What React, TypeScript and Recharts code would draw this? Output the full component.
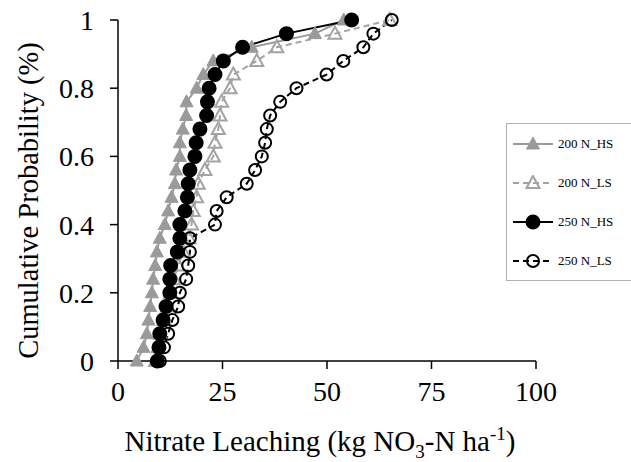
import React from "react"
import { Legend, Line, LineChart, XAxis, YAxis } from "recharts"

// cumulative probability levels (y) shared by all series
const probability = [
  0, 0.04, 0.08, 0.12, 0.16, 0.2, 0.24, 0.28, 0.32, 0.36, 0.4, 0.44, 0.48,
  0.52, 0.56, 0.6, 0.64, 0.68, 0.72, 0.76, 0.8, 0.84, 0.88, 0.92, 0.96, 1,
]

// nitrate leaching (kg NO3-N/ha) per series
const n200HS = [
  4.5, 6.1, 6.9, 7.3, 7.7, 8.1, 8.4, 8.9, 9.3, 10, 11.2, 12, 12.8, 13.6, 13.9,
  14.8, 14.8, 15.5, 16.3, 16.4, 18.8, 20.4, 22.8, 32, 47.1, 54,
]
const n200LS = [
  9, 9.6, 10.2, 11, 11.8, 12.6, 13.4, 14.4, 15.6, 17, 17.6, 18, 18.8, 19.2,
  20.8, 22.8, 23.2, 24, 24.4, 24.8, 26.8, 27.6, 33.2, 38, 51.9, 65,
]
const n250HS = [
  9.4, 9.8, 10, 10.8, 11.5, 12.4, 12.4, 12.6, 14.2, 14.8, 14.8, 16, 16.6, 16.8,
  17.2, 18.4, 18.7, 19.6, 21.2, 21.4, 21.8, 23.2, 25.2, 29.8, 40.3, 55.9,
]
const n250LS = [
  10, 11, 12, 13, 14.4, 14.8, 16.3, 16.8, 17.2, 17.2, 23.2, 23.6, 26, 30.8,
  32.8, 34.4, 35.2, 35.6, 36.4, 38.8, 42.7, 49.9, 53.9, 58.7, 61.1, 65.5,
]

const xTicks = [0, 25, 50, 75, 100]
const yTicks = [0, 0.2, 0.4, 0.6, 0.8, 1]

const toPoints = (xs: number[]) => xs.map((x, i) => ({ x, p: probability[i] }))

const FONT = "'Liberation Serif', 'Times New Roman', serif"
const GRAY = "#9a9a9a"

const series = [
  { name: "200 N_HS", data: toPoints(n200HS), stroke: GRAY, dash: undefined, marker: "tri", fill: GRAY },
  { name: "200 N_LS", data: toPoints(n200LS), stroke: "#a3a3a3", dash: "6 4", marker: "tri", fill: "none" },
  { name: "250 N_HS", data: toPoints(n250HS), stroke: "#000", dash: undefined, marker: "circle", fill: "#000" },
  { name: "250 N_LS", data: toPoints(n250LS), stroke: "#000", dash: "6 4", marker: "circle", fill: "none" },
]

function Marker({ cx, cy, kind, fill, stroke }: any) {
  if (kind === "tri") {
    return (
      <polygon
        points={`${cx},${cy - 7} ${cx - 6.5},${cy + 5} ${cx + 6.5},${cy + 5}`}
        fill={fill}
        stroke={stroke}
        strokeWidth={fill === "none" ? 2 : 1}
      />
    )
  }
  return (
    <circle
      cx={cx}
      cy={cy}
      r={fill === "none" ? 6 : 6.5}
      fill={fill}
      stroke={stroke}
      strokeWidth={2}
    />
  )
}

function LegendBox() {
  return (
    <div
      style={{
        width: 125,
        height: 158,
        boxSizing: "border-box",
        borderTop: "1.5px solid #b0b0b0",
        borderLeft: "1.5px solid #b0b0b0",
        borderBottom: "1.5px solid #b0b0b0",
        background: "#fff",
        display: "flex",
        flexDirection: "column",
        justifyContent: "space-around",
        paddingLeft: 4,
        fontFamily: FONT,
        fontSize: 13,
      }}
    >
      {series.map((s) => (
        <div key={s.name} style={{ display: "flex", alignItems: "center" }}>
          <svg width={44} height={16}>
            <line x1={2} y1={8} x2={42} y2={8} stroke={s.stroke} strokeWidth={2} strokeDasharray={s.dash} />
            <Marker cx={22} cy={8} kind={s.marker} fill={s.fill} stroke={s.stroke} />
          </svg>
          <span style={{ marginLeft: 3 }}>{s.name}</span>
        </div>
      ))}
    </div>
  )
}

function XTitle({ viewBox }: any) {
  const cx = viewBox.x + viewBox.width / 2 - 7
  return (
    <text x={cx} y={viewBox.y + 90} textAnchor="middle" fontFamily={FONT} fontSize={29} fill="#000">
      Nitrate Leaching (kg NO
      <tspan fontSize={19} dy={7}>3</tspan>
      <tspan dy={-7}>-N ha</tspan>
      <tspan fontSize={19} dy={-11}>-1</tspan>
      <tspan dy={11}>)</tspan>
    </text>
  )
}

function YTitle({ viewBox }: any) {
  const x = viewBox.x - 30
  const y = viewBox.y + viewBox.height / 2 + 10
  return (
    <text
      x={x}
      y={y}
      transform={`rotate(-90, ${x}, ${y})`}
      textAnchor="middle"
      dominantBaseline="central"
      fontFamily={FONT}
      fontSize={28.5}
      fill="#000"
    >
      Cumulative Probability (%)
    </text>
  )
}

export default function App() {
  return (
    <div style={{ position: "fixed", left: 0, top: 0, width: 631, height: 462, background: "#fff" }}>
      <LineChart width={631} height={462} margin={{ top: 20, right: 95, bottom: 41, left: 58 }}>
        <XAxis
          type="number"
          dataKey="x"
          domain={[0, 100]}
          ticks={xTicks}
          allowDataOverflow
          tickSize={8}
          tickMargin={12}
          height={60}
          axisLine={{ stroke: "#000", strokeWidth: 1.5 }}
          tickLine={{ stroke: "#000", strokeWidth: 1.5 }}
          tick={{ fontSize: 28, fill: "#000", fontFamily: FONT }}
          label={<XTitle />}
        />
        <YAxis
          type="number"
          dataKey="p"
          domain={[0, 1]}
          ticks={yTicks}
          width={60}
          tickSize={8}
          tickMargin={16}
          axisLine={{ stroke: "#000", strokeWidth: 1.5 }}
          tickLine={{ stroke: "#000", strokeWidth: 1.5 }}
          tick={{ fontSize: 28, fill: "#000", fontFamily: FONT }}
          label={<YTitle />}
        />
        <Legend
          layout="vertical"
          align="center"
          verticalAlign="middle"
          content={<LegendBox />}
          wrapperStyle={{ left: 506, top: 123, width: 125 }}
        />
        {series.map((s) => (
          <Line
            key={s.name}
            data={s.data}
            dataKey="p"
            name={s.name}
            type="linear"
            stroke={s.stroke}
            strokeWidth={2}
            strokeDasharray={s.dash}
            isAnimationActive={false}
            dot={(props: any) => (
              <Marker
                key={`${s.name}-${props.index}`}
                cx={props.cx}
                cy={props.cy}
                kind={s.marker}
                fill={s.fill}
                stroke={s.stroke}
              />
            )}
            activeDot={false}
          />
        ))}
      </LineChart>
    </div>
  )
}
